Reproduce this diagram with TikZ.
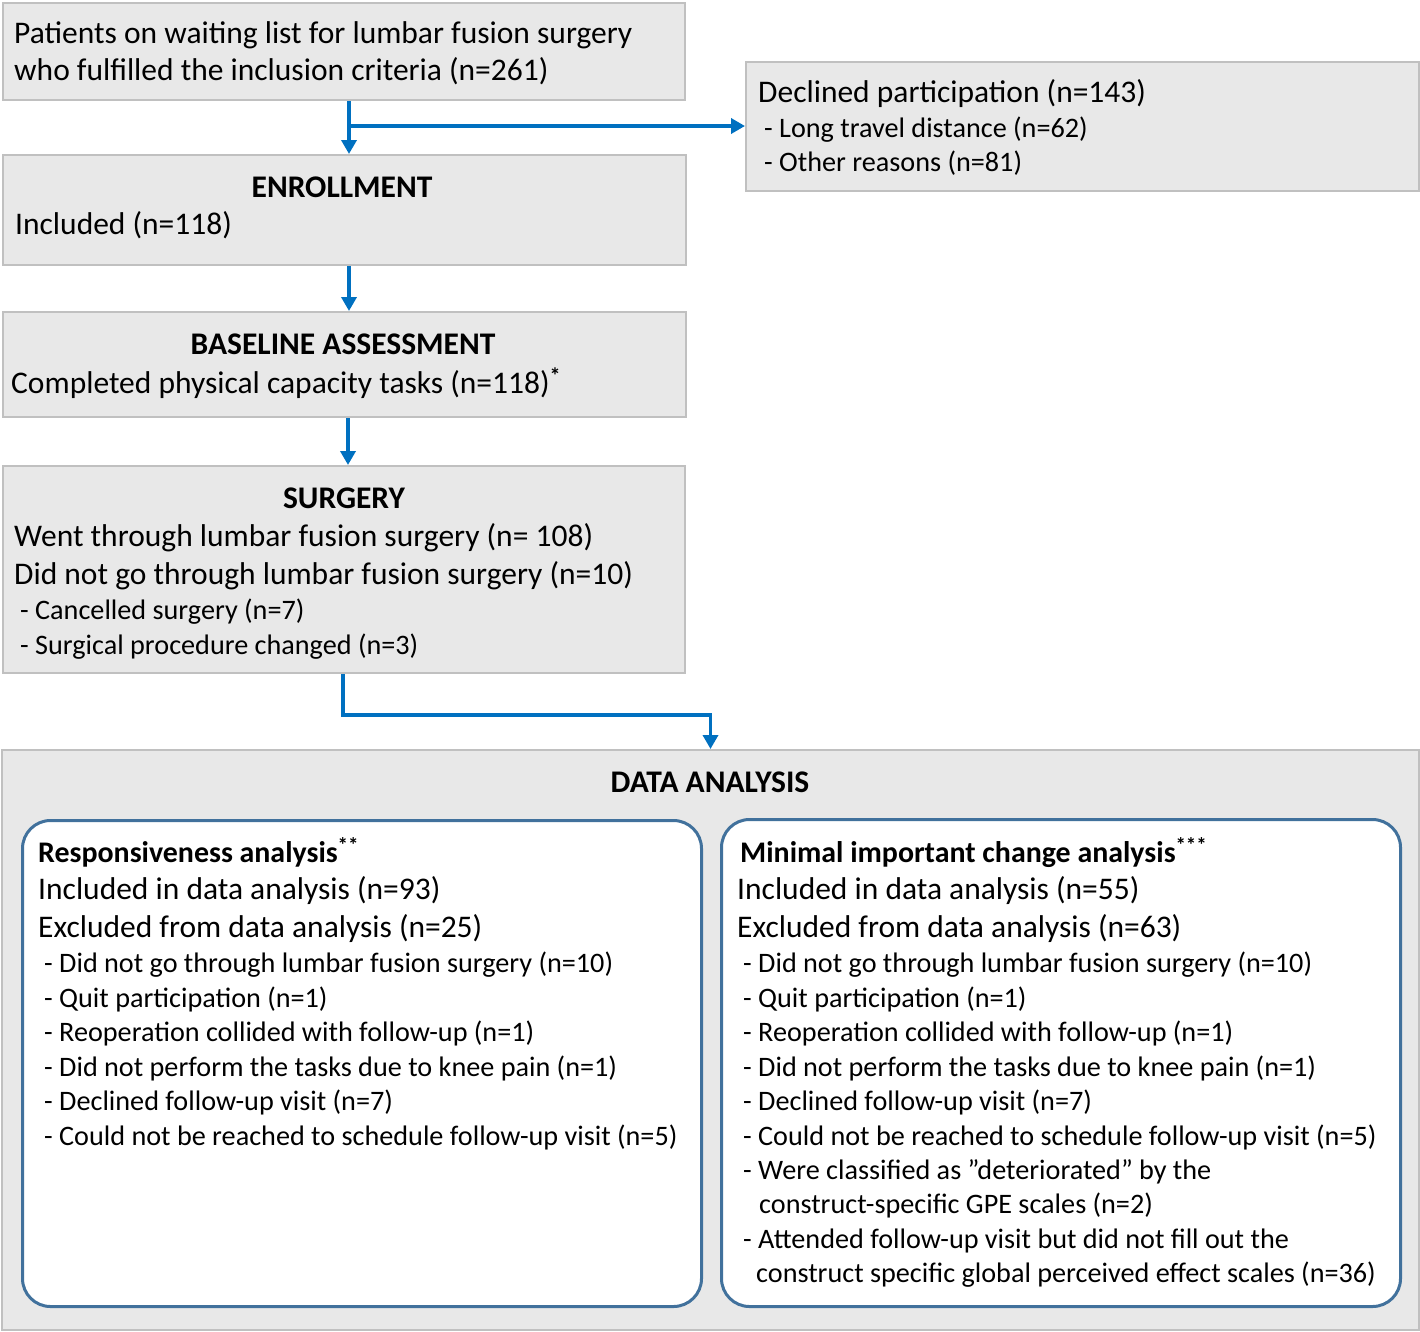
\documentclass[tikz,border=0pt]{standalone}
\usepackage{fontspec}
\setmainfont{Carlito}
\usetikzlibrary{arrows.meta}
\definecolor{boxfill}{HTML}{E8E8E8}
\definecolor{boxline}{HTML}{C0C0C0}
\definecolor{arrblue}{HTML}{0070C0}
\definecolor{inline}{HTML}{41719C}
\begin{document}
\begin{tikzpicture}[x=1pt,y=-1pt,
 gbox/.style={draw=boxline,fill=boxfill,line width=2pt,inner sep=0pt,anchor=north west},
 rbox/.style={draw=inline,fill=white,line width=3pt,rounded corners=28pt,inner sep=0pt,anchor=north west},
 big/.style={anchor=base west,inner sep=0pt,font=\fontsize{31.5}{36}\selectfont},
 sm/.style={anchor=base west,inner sep=0pt,font=\fontsize{28.2}{32}\selectfont},
 head/.style={anchor=base,inner sep=0pt,font=\fontsize{31.5}{36}\selectfont\bfseries},
 bhead/.style={anchor=base west,inner sep=0pt,font=\fontsize{29.9}{34}\selectfont\bfseries},
 arr/.style={draw=arrblue,line width=3.8pt,-{Triangle[width=15pt,length=14pt]}}]
\useasboundingbox (0,0) rectangle (1420,1331);
% boxes
\node[gbox,minimum width=682pt,minimum height=97pt] (b1) at (2,2) {};
\node[gbox,minimum width=673pt,minimum height=129pt] (decl) at (745,61) {};
\node[gbox,minimum width=683pt,minimum height=110pt] (enr) at (2,154) {};
\node[gbox,minimum width=683pt,minimum height=105pt] (base) at (2,311) {};
\node[gbox,minimum width=682pt,minimum height=207pt] (surg) at (2,465) {};
\node[gbox,minimum width=1417pt,minimum height=580pt] (data) at (1,749) {};
\node[rbox,minimum width=679pt,minimum height=486pt] (resp) at (21,819) {};
\node[rbox,minimum width=679pt,minimum height=487pt] (mic) at (720,818) {};
% texts
\node[big] (t1a) at (14,43) {Patients on waiting list for lumbar fusion surgery};
\node[big] (t1b) at (14,80) {who fulfilled the inclusion criteria (n=261)};
\node[big] (d1) at (758,102) {Declined participation (n=143)};
\node[sm] (d2) at (764,137) {- Long travel distance (n=62)};
\node[sm] (d3) at (764,171) {- Other reasons (n=81)};
\node[head] (e1) at (342,197) {ENROLLMENT};
\node[big] (e2) at (15,234) {Included (n=118)};
\node[head] (a1) at (343,354) {BASELINE ASSESSMENT};
\node[big] (a2) at (11,393) {Completed physical capacity tasks (n=118)\textsuperscript{\bfseries *}};
\node[head] (s1) at (344,508) {SURGERY};
\node[big] (s2) at (14,546) {Went through lumbar fusion surgery (n= 108)};
\node[big] (s3) at (14,584) {Did not go through lumbar fusion surgery (n=10)};
\node[sm] (s4) at (20,619) {- Cancelled surgery (n=7)};
\node[sm] (s5) at (20,654) {- Surgical procedure changed (n=3)};
\node[head] (da) at (710,792) {DATA ANALYSIS};
% responsiveness
\node[bhead] (r1) at (38,862) {Responsiveness analysis\textsuperscript{**}};
\node[big] (r2) at (38,899) {Included in data analysis (n=93)};
\node[big] (r3) at (38,937) {Excluded from data analysis (n=25)};
\node[sm] (r4) at (44,972) {- Did not go through lumbar fusion surgery (n=10)};
\node[sm] (r5) at (44,1007) {- Quit participation (n=1)};
\node[sm] (r6) at (44,1041) {- Reoperation collided with follow-up (n=1)};
\node[sm] (r7) at (44,1076) {- Did not perform the tasks due to knee pain (n=1)};
\node[sm] (r8) at (44,1110) {- Declined follow-up visit (n=7)};
\node[sm] (r9) at (44,1145) {- Could not be reached to schedule follow-up visit (n=5)};
% MIC
\node[bhead] (m1) at (740,862) {Minimal important change analysis\textsuperscript{***}};
\node[big] (m2) at (737,899) {Included in data analysis (n=55)};
\node[big] (m3) at (737,937) {Excluded from data analysis (n=63)};
\node[sm] (m4) at (743,972) {- Did not go through lumbar fusion surgery (n=10)};
\node[sm] (m5) at (743,1007) {- Quit participation (n=1)};
\node[sm] (m6) at (743,1041) {- Reoperation collided with follow-up (n=1)};
\node[sm] (m7) at (743,1076) {- Did not perform the tasks due to knee pain (n=1)};
\node[sm] (m8) at (743,1110) {- Declined follow-up visit (n=7)};
\node[sm] (m9) at (743,1145) {- Could not be reached to schedule follow-up visit (n=5)};
\node[sm] (m10) at (743,1179) {- Were classified as ”deteriorated” by the};
\node[sm] (m11) at (759,1213) {construct-specific GPE scales (n=2)};
\node[sm] (m12) at (743,1248) {- Attended follow-up visit but did not fill out the};
\node[sm] (m13) at (756,1282) {construct specific global perceived effect scales (n=36)};
% connectors
\coordinate (x1) at (349,0);
\coordinate (j1) at (349,126);
\coordinate (x3) at (348,0);
\coordinate (k1) at (343,715);
\draw[arr] (x1 |- b1.south) -- (x1 |- enr.north);
\draw[arr] (j1) -- (j1 -| decl.west);
\draw[arr] (x1 |- enr.south) -- (x1 |- base.north);
\draw[arr] (x3 |- base.south) -- (x3 |- surg.north);
\draw[arr] (k1 |- surg.south) -- (k1) -| (data.north);
\end{tikzpicture}
\end{document}
